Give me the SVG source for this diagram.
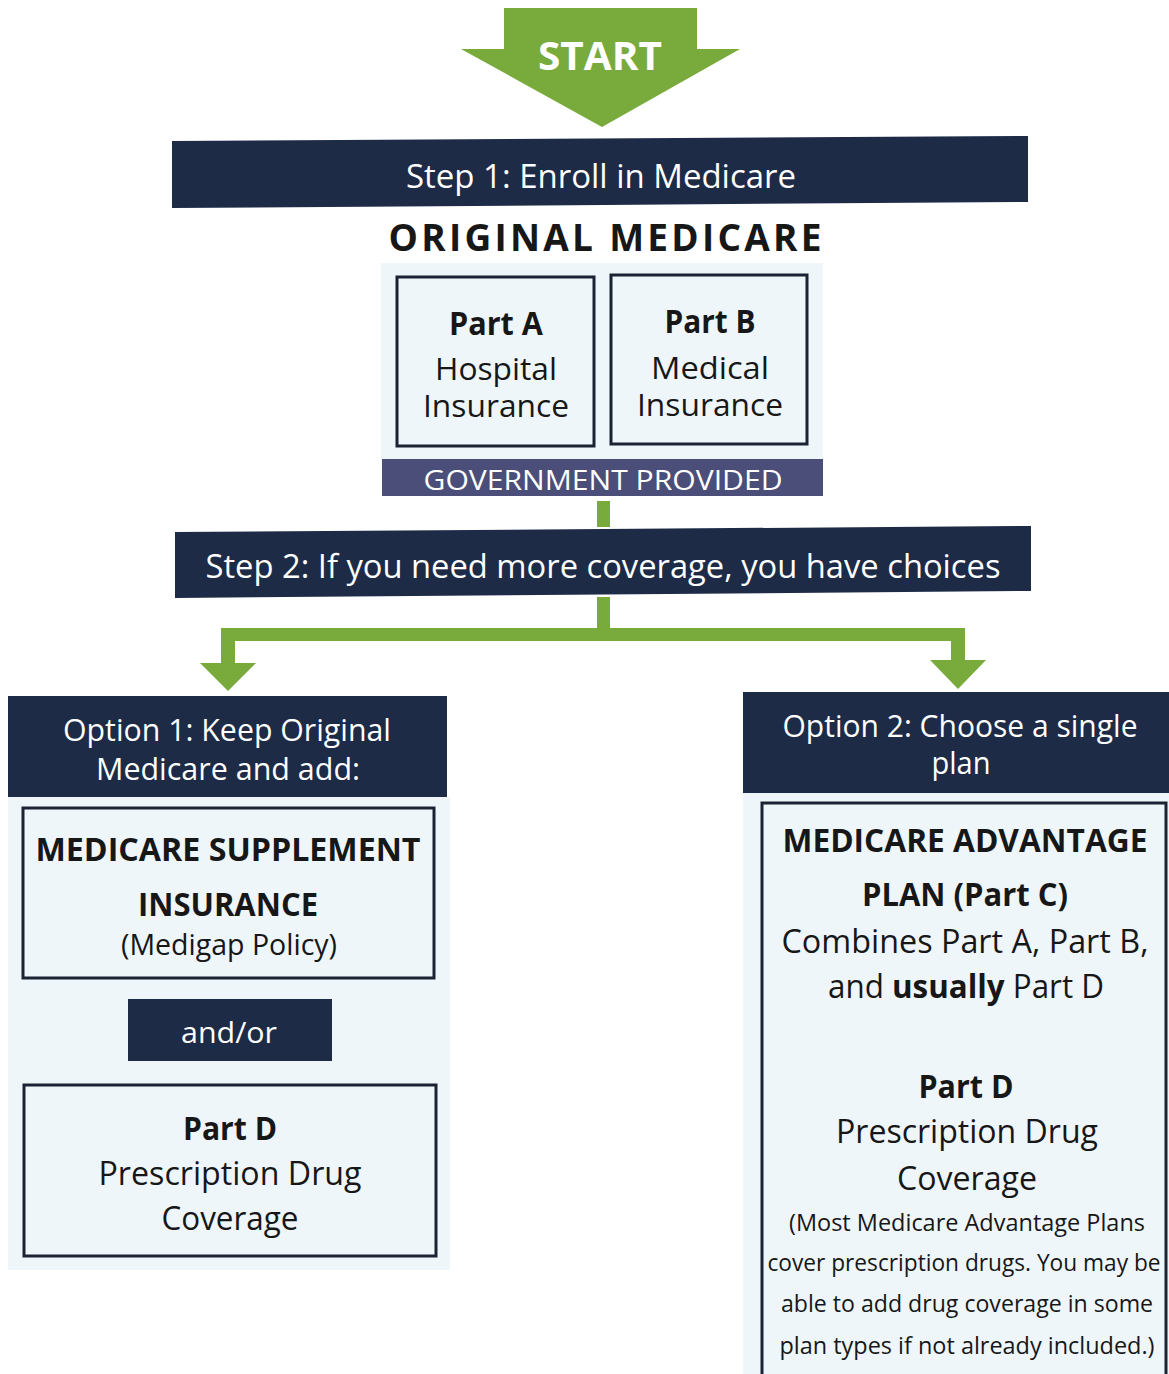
<svg xmlns="http://www.w3.org/2000/svg" width="1169" height="1374" viewBox="0 0 1169 1374">
<style>
.bar{fill:#1d2b47}
.gov{fill:#4b4e79}
.panel{fill:#eef6fa}
.box{fill:none;stroke:#1b2233;stroke-width:3}
.green{fill:#78ab3c}
text{font-family:"Open Sans","Noto Sans",sans-serif;text-anchor:middle}
.w{fill:#ffffff}
.k{fill:#171717}
.b{font-weight:700}
.s33{font-size:33px}
.s31{font-size:31px}
.s24{font-size:24px}
</style>
<rect x="0" y="0" width="1169" height="1374" fill="#ffffff"/>

<g id="start">
  <polygon class="green" points="504,8 697,8 697,49 740,49 602,127 461,49 504,49"/>
  <text class="w b" x="600" y="70" font-size="40" textLength="124" lengthAdjust="spacingAndGlyphs">START</text>
</g>

<g id="step1">
  <polygon class="bar" points="172,141 1028,136 1028,202 172,208"/>
  <text class="w s33" x="601" y="188" textLength="390" lengthAdjust="spacingAndGlyphs">Step 1: Enroll in Medicare</text>
</g>

<g id="original-medicare">
  <text class="k b" x="605" y="251" font-size="37" textLength="433" lengthAdjust="spacing">ORIGINAL MEDICARE</text>
  <rect class="panel" x="381" y="263" width="442" height="197"/>
</g>

<g id="partA">
  <rect class="box" x="397" y="277" width="197" height="169"/>
  <text class="k b s33" x="496" y="335" textLength="94" lengthAdjust="spacingAndGlyphs">Part A</text>
  <text class="k s31" x="496" y="380" textLength="122" lengthAdjust="spacingAndGlyphs">Hospital</text>
  <text class="k s31" x="496" y="417" textLength="146" lengthAdjust="spacingAndGlyphs">Insurance</text>
</g>

<g id="partB">
  <rect class="box" x="611" y="275" width="196" height="169"/>
  <text class="k b s33" x="710" y="333" textLength="91" lengthAdjust="spacingAndGlyphs">Part B</text>
  <text class="k s31" x="710" y="379" textLength="118" lengthAdjust="spacingAndGlyphs">Medical</text>
  <text class="k s31" x="710" y="416" textLength="146" lengthAdjust="spacingAndGlyphs">Insurance</text>
</g>

<g id="government">
  <rect class="gov" x="382" y="459" width="441" height="37"/>
  <text class="w" x="603" y="490" font-size="28" textLength="359" lengthAdjust="spacingAndGlyphs">GOVERNMENT PROVIDED</text>
</g>

<g id="step2">
  <polygon class="bar" points="175,532 1031,526 1031,591 175,598"/>
  <text class="w s33" x="603" y="578" textLength="795" lengthAdjust="spacingAndGlyphs">Step 2: If you need more coverage, you have choices</text>
</g>

<g id="option1">
  <rect class="panel" x="8" y="797" width="442" height="473"/>
  <rect class="bar" x="8" y="696" width="439" height="101"/>
  <text class="w s31" x="227" y="741" textLength="328" lengthAdjust="spacingAndGlyphs">Option 1: Keep Original</text>
  <text class="w s31" x="228" y="780" textLength="264" lengthAdjust="spacingAndGlyphs">Medicare and add:</text>
</g>

<g id="medigap">
  <rect class="box" x="23" y="808" width="411" height="170"/>
  <text class="k b s33" x="228" y="861" textLength="385" lengthAdjust="spacingAndGlyphs">MEDICARE SUPPLEMENT</text>
  <text class="k b s33" x="228" y="916" textLength="180" lengthAdjust="spacingAndGlyphs">INSURANCE</text>
  <text class="k" x="229" y="955" font-size="28.5" textLength="216" lengthAdjust="spacingAndGlyphs">(Medigap Policy)</text>
</g>

<g id="andor">
  <rect class="bar" x="128" y="999" width="204" height="62"/>
  <text class="w" x="229" y="1043" font-size="30" textLength="96" lengthAdjust="spacingAndGlyphs">and/or</text>
</g>

<g id="partD-left">
  <rect class="box" x="24" y="1085" width="412" height="171"/>
  <text class="k b s33" x="230" y="1140" textLength="94" lengthAdjust="spacingAndGlyphs">Part D</text>
  <text class="k s33" x="230" y="1185" textLength="263" lengthAdjust="spacingAndGlyphs">Prescription Drug</text>
  <text class="k s33" x="230" y="1230" textLength="137" lengthAdjust="spacingAndGlyphs">Coverage</text>
</g>

<g id="option2">
  <rect class="panel" x="743" y="793" width="426" height="581"/>
  <rect class="bar" x="743" y="692" width="426" height="101"/>
  <text class="w s31" x="960" y="737" textLength="355" lengthAdjust="spacingAndGlyphs">Option 2: Choose a single</text>
  <text class="w s31" x="961" y="774" textLength="59" lengthAdjust="spacingAndGlyphs">plan</text>
</g>

<g id="advantage">
  <path class="box" d="M762,1380 V803 H1166 V1380"/>
  <text class="k b s33" x="965" y="852" textLength="365" lengthAdjust="spacingAndGlyphs">MEDICARE ADVANTAGE</text>
  <text class="k b s33" x="965" y="906" textLength="206" lengthAdjust="spacingAndGlyphs">PLAN (Part C)</text>
  <text class="k s33" x="965" y="953" textLength="367" lengthAdjust="spacingAndGlyphs">Combines Part A, Part B,</text>
  <text class="k s33" x="966" y="998" textLength="276" lengthAdjust="spacingAndGlyphs">and <tspan class="b">usually</tspan> Part D</text>
  <text class="k b s33" x="966" y="1098" textLength="95" lengthAdjust="spacingAndGlyphs">Part D</text>
  <text class="k s33" x="967" y="1143" textLength="262" lengthAdjust="spacingAndGlyphs">Prescription Drug</text>
  <text class="k s33" x="967" y="1190" textLength="140" lengthAdjust="spacingAndGlyphs">Coverage</text>
  <text class="k s24" x="967" y="1231" textLength="356" lengthAdjust="spacingAndGlyphs">(Most Medicare Advantage Plans</text>
  <text class="k s24" x="964" y="1271" textLength="393" lengthAdjust="spacingAndGlyphs">cover prescription drugs. You may be</text>
  <text class="k s24" x="967" y="1312" textLength="372" lengthAdjust="spacingAndGlyphs">able to add drug coverage in some</text>
  <text class="k s24" x="967" y="1354" textLength="375" lengthAdjust="spacingAndGlyphs">plan types if not already included.)</text>
</g>

<g id="connectors">
  <rect class="green" x="597" y="501" width="13" height="26"/>
  <rect class="green" x="597" y="597" width="13" height="40"/>
  <rect class="green" x="221" y="628" width="744" height="13"/>
  <rect class="green" x="221" y="628" width="14" height="37"/>
  <polygon class="green" points="200,663 256,663 228,691"/>
  <rect class="green" x="951" y="628" width="14" height="34"/>
  <polygon class="green" points="930,660 986,660 958,689"/>
</g>
</svg>
